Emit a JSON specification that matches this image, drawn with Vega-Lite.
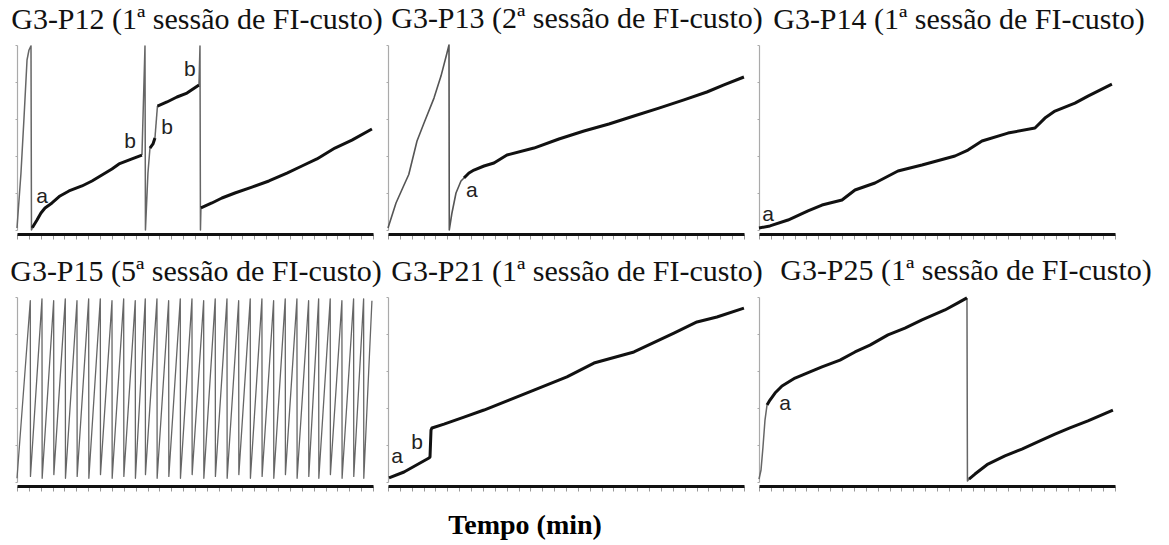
{
  "$schema": "https://vega.github.io/schema/vega-lite/v6.json",
  "background": "white",
  "padding": {"left": 10, "top": 4, "right": 0, "bottom": 0},
  "datasets": {
    "curves": [
      {"p":"P12","s":1,"k":"thin","t":0,"r":1.1},{"p":"P12","s":1,"k":"thin","t":0.67,"r":30.8},{"p":"P12","s":1,"k":"thin","t":1.18,"r":60.5},{"p":"P12","s":1,"k":"thin","t":1.69,"r":91.9},{"p":"P12","s":1,"k":"thin","t":2.02,"r":97.3},{"p":"P12","s":1,"k":"thin","t":2.36,"r":99.5},{"p":"P12","s":1,"k":"thin","t":2.44,"r":0},{"p":"P12","s":1,"k":"thin","t":2.61,"r":1.1},
      {"p":"P12","s":2,"k":"thick","t":2.61,"r":1.1},{"p":"P12","s":2,"k":"thick","t":2.65,"r":1.6},{"p":"P12","s":2,"k":"thick","t":3.37,"r":5.4},{"p":"P12","s":2,"k":"thick","t":4.04,"r":9.2},{"p":"P12","s":2,"k":"thick","t":4.72,"r":11.9},{"p":"P12","s":2,"k":"thick","t":5.9,"r":14.6},{"p":"P12","s":2,"k":"thick","t":7.25,"r":18.4},{"p":"P12","s":2,"k":"thick","t":8.76,"r":21.1},{"p":"P12","s":2,"k":"thick","t":10.95,"r":23.8},{"p":"P12","s":2,"k":"thick","t":12.64,"r":26.5},{"p":"P12","s":2,"k":"thick","t":14.32,"r":29.7},{"p":"P12","s":2,"k":"thick","t":16.0,"r":33.0},{"p":"P12","s":2,"k":"thick","t":17.19,"r":35.7},{"p":"P12","s":2,"k":"thick","t":19.38,"r":38.4},{"p":"P12","s":2,"k":"thick","t":21.06,"r":40.5},
      {"p":"P12","s":3,"k":"thin","t":21.06,"r":40.5},{"p":"P12","s":3,"k":"thin","t":21.57,"r":99.5},{"p":"P12","s":3,"k":"thin","t":21.65,"r":0},{"p":"P12","s":3,"k":"thin","t":22.07,"r":30.8},{"p":"P12","s":3,"k":"thin","t":22.41,"r":44.3},
      {"p":"P12","s":4,"k":"thick","t":22.41,"r":44.3},{"p":"P12","s":4,"k":"thick","t":22.92,"r":46.5},{"p":"P12","s":4,"k":"thick","t":23.25,"r":49.7},
      {"p":"P12","s":5,"k":"thin","t":23.25,"r":49.7},{"p":"P12","s":5,"k":"thin","t":23.67,"r":67.0},
      {"p":"P12","s":6,"k":"thick","t":23.67,"r":67.0},{"p":"P12","s":6,"k":"thick","t":25.28,"r":69.2},{"p":"P12","s":6,"k":"thick","t":26.96,"r":71.9},{"p":"P12","s":6,"k":"thick","t":28.65,"r":74.0},{"p":"P12","s":6,"k":"thick","t":30.67,"r":78.4},
      {"p":"P12","s":7,"k":"thin","t":30.67,"r":78.4},{"p":"P12","s":7,"k":"thin","t":30.84,"r":99.5},{"p":"P12","s":7,"k":"thin","t":30.92,"r":0},{"p":"P12","s":7,"k":"thin","t":31.0,"r":11.9},
      {"p":"P12","s":8,"k":"thick","t":31.0,"r":11.9},{"p":"P12","s":8,"k":"thick","t":32.85,"r":14.6},{"p":"P12","s":8,"k":"thick","t":34.54,"r":17.3},{"p":"P12","s":8,"k":"thick","t":36.73,"r":20.0},{"p":"P12","s":8,"k":"thick","t":39.6,"r":23.2},{"p":"P12","s":8,"k":"thick","t":42.46,"r":26.5},{"p":"P12","s":8,"k":"thick","t":45.5,"r":30.8},{"p":"P12","s":8,"k":"thick","t":48.02,"r":34.6},{"p":"P12","s":8,"k":"thick","t":50.55,"r":38.4},{"p":"P12","s":8,"k":"thick","t":53.58,"r":44.3},{"p":"P12","s":8,"k":"thick","t":56.45,"r":48.6},{"p":"P12","s":8,"k":"thick","t":59.82,"r":54.6},

      {"p":"P13","s":1,"k":"thin","t":0,"r":1.1},{"p":"P13","s":1,"k":"thin","t":1.35,"r":14.6},{"p":"P13","s":1,"k":"thin","t":2.7,"r":24.3},{"p":"P13","s":1,"k":"thin","t":3.5,"r":30.0},{"p":"P13","s":1,"k":"thin","t":4.89,"r":48.1},{"p":"P13","s":1,"k":"thin","t":6.07,"r":57.8},{"p":"P13","s":1,"k":"thin","t":7.75,"r":71.3},{"p":"P13","s":1,"k":"thin","t":8.93,"r":83.2},{"p":"P13","s":1,"k":"thin","t":9.94,"r":95.7},{"p":"P13","s":1,"k":"thin","t":10.28,"r":100},{"p":"P13","s":1,"k":"thin","t":10.33,"r":0},{"p":"P13","s":1,"k":"thin","t":10.78,"r":9.2},{"p":"P13","s":1,"k":"thin","t":11.46,"r":20.0},{"p":"P13","s":1,"k":"thin","t":12.3,"r":26.5},{"p":"P13","s":1,"k":"thin","t":12.8,"r":28.1},
      {"p":"P13","s":2,"k":"thick","t":12.8,"r":28.1},{"p":"P13","s":2,"k":"thick","t":13.65,"r":30.8},{"p":"P13","s":2,"k":"thick","t":14.49,"r":32.4},{"p":"P13","s":2,"k":"thick","t":16.18,"r":34.6},{"p":"P13","s":2,"k":"thick","t":17.86,"r":36.2},{"p":"P13","s":2,"k":"thick","t":20.05,"r":40.5},{"p":"P13","s":2,"k":"thick","t":24.6,"r":44.3},{"p":"P13","s":2,"k":"thick","t":28.81,"r":49.2},{"p":"P13","s":2,"k":"thick","t":33.03,"r":53.5},{"p":"P13","s":2,"k":"thick","t":37.24,"r":57.3},{"p":"P13","s":2,"k":"thick","t":41.45,"r":61.6},{"p":"P13","s":2,"k":"thick","t":45.66,"r":65.9},{"p":"P13","s":2,"k":"thick","t":49.88,"r":70.3},{"p":"P13","s":2,"k":"thick","t":53.75,"r":74.6},{"p":"P13","s":2,"k":"thick","t":56.62,"r":78.4},{"p":"P13","s":2,"k":"thick","t":59.99,"r":82.7},

      {"p":"P14","s":1,"k":"thick","t":0,"r":1.1},{"p":"P14","s":1,"k":"thick","t":1.85,"r":2.2},{"p":"P14","s":1,"k":"thick","t":4.89,"r":5.4},{"p":"P14","s":1,"k":"thick","t":8.26,"r":10.3},{"p":"P14","s":1,"k":"thick","t":10.62,"r":13.5},{"p":"P14","s":1,"k":"thick","t":13.99,"r":16.2},{"p":"P14","s":1,"k":"thick","t":16.18,"r":21.6},{"p":"P14","s":1,"k":"thick","t":19.55,"r":25.4},{"p":"P14","s":1,"k":"thick","t":23.42,"r":31.9},{"p":"P14","s":1,"k":"thick","t":27.47,"r":35.1},{"p":"P14","s":1,"k":"thick","t":33.03,"r":40.0},{"p":"P14","s":1,"k":"thick","t":35.22,"r":43.2},{"p":"P14","s":1,"k":"thick","t":37.58,"r":48.1},{"p":"P14","s":1,"k":"thick","t":41.96,"r":52.4},{"p":"P14","s":1,"k":"thick","t":46.51,"r":55.1},{"p":"P14","s":1,"k":"thick","t":48.19,"r":60.5},{"p":"P14","s":1,"k":"thick","t":49.88,"r":64.3},{"p":"P14","s":1,"k":"thick","t":53.25,"r":68.6},{"p":"P14","s":1,"k":"thick","t":55.44,"r":72.4},{"p":"P14","s":1,"k":"thick","t":59.48,"r":78.9},

      {"p":"P15","s":1,"k":"thin","t":0,"r":2},
      {"p":"P15","s":1,"k":"thin","t":2.24,"r":98},{"p":"P15","s":1,"k":"thin","t":2.27,"r":3},
      {"p":"P15","s":1,"k":"thin","t":4.21,"r":99},{"p":"P15","s":1,"k":"thin","t":4.24,"r":2},
      {"p":"P15","s":1,"k":"thin","t":6.18,"r":98},{"p":"P15","s":1,"k":"thin","t":6.21,"r":4},
      {"p":"P15","s":1,"k":"thin","t":8.14,"r":99},{"p":"P15","s":1,"k":"thin","t":8.17,"r":2},
      {"p":"P15","s":1,"k":"thin","t":10.11,"r":98},{"p":"P15","s":1,"k":"thin","t":10.14,"r":3},
      {"p":"P15","s":1,"k":"thin","t":12.08,"r":99},{"p":"P15","s":1,"k":"thin","t":12.11,"r":2},
      {"p":"P15","s":1,"k":"thin","t":14.04,"r":99},{"p":"P15","s":1,"k":"thin","t":14.07,"r":4},
      {"p":"P15","s":1,"k":"thin","t":16.01,"r":98},{"p":"P15","s":1,"k":"thin","t":16.04,"r":2},
      {"p":"P15","s":1,"k":"thin","t":17.98,"r":99},{"p":"P15","s":1,"k":"thin","t":18.01,"r":3},
      {"p":"P15","s":1,"k":"thin","t":19.93,"r":98},{"p":"P15","s":1,"k":"thin","t":19.96,"r":2},
      {"p":"P15","s":1,"k":"thin","t":21.62,"r":99},{"p":"P15","s":1,"k":"thin","t":21.65,"r":4},
      {"p":"P15","s":1,"k":"thin","t":23.59,"r":99},{"p":"P15","s":1,"k":"thin","t":23.62,"r":2},
      {"p":"P15","s":1,"k":"thin","t":25.56,"r":98},{"p":"P15","s":1,"k":"thin","t":25.59,"r":3},
      {"p":"P15","s":1,"k":"thin","t":27.52,"r":99},{"p":"P15","s":1,"k":"thin","t":27.55,"r":2},
      {"p":"P15","s":1,"k":"thin","t":29.49,"r":99},{"p":"P15","s":1,"k":"thin","t":29.52,"r":4},
      {"p":"P15","s":1,"k":"thin","t":31.46,"r":98},{"p":"P15","s":1,"k":"thin","t":31.49,"r":2},
      {"p":"P15","s":1,"k":"thin","t":33.41,"r":99},{"p":"P15","s":1,"k":"thin","t":33.44,"r":3},
      {"p":"P15","s":1,"k":"thin","t":35.39,"r":99},{"p":"P15","s":1,"k":"thin","t":35.42,"r":2},
      {"p":"P15","s":1,"k":"thin","t":37.36,"r":98},{"p":"P15","s":1,"k":"thin","t":37.39,"r":4},
      {"p":"P15","s":1,"k":"thin","t":39.31,"r":99},{"p":"P15","s":1,"k":"thin","t":39.34,"r":2},
      {"p":"P15","s":1,"k":"thin","t":41.28,"r":99},{"p":"P15","s":1,"k":"thin","t":41.31,"r":3},
      {"p":"P15","s":1,"k":"thin","t":43.25,"r":98},{"p":"P15","s":1,"k":"thin","t":43.28,"r":2},
      {"p":"P15","s":1,"k":"thin","t":45.21,"r":99},{"p":"P15","s":1,"k":"thin","t":45.24,"r":4},
      {"p":"P15","s":1,"k":"thin","t":47.18,"r":99},{"p":"P15","s":1,"k":"thin","t":47.21,"r":2},
      {"p":"P15","s":1,"k":"thin","t":49.15,"r":98},{"p":"P15","s":1,"k":"thin","t":49.18,"r":3},
      {"p":"P15","s":1,"k":"thin","t":50.84,"r":99},{"p":"P15","s":1,"k":"thin","t":50.87,"r":2},
      {"p":"P15","s":1,"k":"thin","t":52.79,"r":99},{"p":"P15","s":1,"k":"thin","t":52.82,"r":4},
      {"p":"P15","s":1,"k":"thin","t":54.76,"r":98},{"p":"P15","s":1,"k":"thin","t":54.79,"r":2},
      {"p":"P15","s":1,"k":"thin","t":56.73,"r":99},{"p":"P15","s":1,"k":"thin","t":56.76,"r":3},
      {"p":"P15","s":1,"k":"thin","t":58.42,"r":99},{"p":"P15","s":1,"k":"thin","t":58.45,"r":2},
      {"p":"P15","s":1,"k":"thin","t":59.82,"r":98},

      {"p":"P21","s":1,"k":"thick","t":0.17,"r":2.2},{"p":"P21","s":1,"k":"thick","t":2.7,"r":5.4},{"p":"P21","s":1,"k":"thick","t":6.91,"r":13.0},{"p":"P21","s":1,"k":"thick","t":7.08,"r":13.5},{"p":"P21","s":1,"k":"thick","t":7.25,"r":28.1},{"p":"P21","s":1,"k":"thick","t":7.41,"r":29.2},{"p":"P21","s":1,"k":"thick","t":9.44,"r":31.3},{"p":"P21","s":1,"k":"thick","t":12.81,"r":35.1},{"p":"P21","s":1,"k":"thick","t":16.18,"r":38.9},{"p":"P21","s":1,"k":"thick","t":20.39,"r":44.3},{"p":"P21","s":1,"k":"thick","t":24.6,"r":49.7},{"p":"P21","s":1,"k":"thick","t":30.16,"r":56.8},{"p":"P21","s":1,"k":"thick","t":34.71,"r":64.3},{"p":"P21","s":1,"k":"thick","t":41.45,"r":70.3},{"p":"P21","s":1,"k":"thick","t":48.19,"r":80.5},{"p":"P21","s":1,"k":"thick","t":52.07,"r":86.5},{"p":"P21","s":1,"k":"thick","t":55.44,"r":89.2},{"p":"P21","s":1,"k":"thick","t":59.99,"r":94.0},

      {"p":"P25","s":1,"k":"thin","t":0,"r":1.6},{"p":"P25","s":1,"k":"thin","t":0.34,"r":6.5},{"p":"P25","s":1,"k":"thin","t":0.67,"r":18.9},{"p":"P25","s":1,"k":"thin","t":1.01,"r":33.5},{"p":"P25","s":1,"k":"thin","t":1.35,"r":41.6},
      {"p":"P25","s":2,"k":"thick","t":1.35,"r":41.6},{"p":"P25","s":2,"k":"thick","t":1.85,"r":44.3},{"p":"P25","s":2,"k":"thick","t":2.7,"r":48.1},{"p":"P25","s":2,"k":"thick","t":3.88,"r":51.9},{"p":"P25","s":2,"k":"thick","t":6.07,"r":56.2},{"p":"P25","s":2,"k":"thick","t":8.59,"r":59.5},{"p":"P25","s":2,"k":"thick","t":10.62,"r":62.2},{"p":"P25","s":2,"k":"thick","t":13.65,"r":65.9},{"p":"P25","s":2,"k":"thick","t":16.18,"r":70.3},{"p":"P25","s":2,"k":"thick","t":18.7,"r":74.0},{"p":"P25","s":2,"k":"thick","t":21.74,"r":79.5},{"p":"P25","s":2,"k":"thick","t":24.6,"r":83.2},{"p":"P25","s":2,"k":"thick","t":27.47,"r":87.6},{"p":"P25","s":2,"k":"thick","t":31.34,"r":93.0},{"p":"P25","s":2,"k":"thick","t":33.53,"r":96.8},{"p":"P25","s":2,"k":"thick","t":35.05,"r":99.5},
      {"p":"P25","s":3,"k":"thin","t":35.05,"r":99.5},{"p":"P25","s":3,"k":"thin","t":35.13,"r":0.5},{"p":"P25","s":3,"k":"thin","t":35.39,"r":1.6},
      {"p":"P25","s":4,"k":"thick","t":35.39,"r":1.6},{"p":"P25","s":4,"k":"thick","t":36.4,"r":4.3},{"p":"P25","s":4,"k":"thick","t":38.59,"r":9.7},{"p":"P25","s":4,"k":"thick","t":41.45,"r":14.1},{"p":"P25","s":4,"k":"thick","t":44.31,"r":17.8},{"p":"P25","s":4,"k":"thick","t":47.35,"r":22.2},{"p":"P25","s":4,"k":"thick","t":49.88,"r":25.9},{"p":"P25","s":4,"k":"thick","t":52.4,"r":29.2},{"p":"P25","s":4,"k":"thick","t":55.44,"r":33.0},{"p":"P25","s":4,"k":"thick","t":59.65,"r":38.9}
    ],
    "labels": [
      {"p":"P12","lab":"a","t":4.21,"r":17.8},
      {"p":"P12","lab":"b","t":19.04,"r":47.6},
      {"p":"P12","lab":"b","t":25.28,"r":55.1},
      {"p":"P12","lab":"b","t":29.15,"r":86.5},
      {"p":"P13","lab":"a","t":14.15,"r":21.1},
      {"p":"P14","lab":"a","t":1.52,"r":8.1},
      {"p":"P21","lab":"a","t":1.52,"r":13.5},
      {"p":"P21","lab":"b","t":4.89,"r":21.1},
      {"p":"P25","lab":"a","t":4.38,"r":42.2}
    ]
  },
  "data": {"name": "curves"},
  "title": {"text": "Tempo (min)", "orient": "bottom", "anchor": "middle", "font": "Liberation Serif", "fontWeight": "bold", "fontSize": 28, "color": "#000", "dx": -56, "offset": 20},
  "vconcat": [
    {"bounds": "flush", "hconcat": [
      {"title": {"text": "G3-P12 (1ª sessão de FI-custo)", "dx": 2}, "width": 356, "height": 185,
       "encoding": {"x": {"field": "t", "type": "quantitative", "scale": {"domain": [0, 60], "nice": false}, "axis": {"title": null}}, "y": {"field": "r", "type": "quantitative", "scale": {"domain": [0, 100], "nice": false}, "axis": {"title": null}}},
       "layer": [
         {"transform": [{"filter": "datum.p == 'P12' && datum.k == 'thin'"}], "mark": {"type": "line", "stroke": "#666", "strokeWidth": 1.5, "strokeJoin": "round"}, "encoding": {"detail": {"field": "s"}, "order": {"value": null}}},
         {"transform": [{"filter": "datum.p == 'P12' && datum.k == 'thick'"}], "mark": {"type": "line", "stroke": "#111", "strokeWidth": 3, "strokeJoin": "round"}, "encoding": {"detail": {"field": "s"}, "order": {"value": null}}},
         {"data": {"name": "labels"}, "transform": [{"filter": "datum.p == 'P12'"}], "mark": {"type": "text", "font": "Liberation Sans", "fontSize": 21, "color": "#222", "baseline": "middle", "align": "center"}, "encoding": {"text": {"field": "lab"}}}
       ]},
      {"title": {"text": "G3-P13 (2ª sessão de FI-custo)", "dx": 11}, "width": 356, "height": 185,
       "encoding": {"x": {"field": "t", "type": "quantitative", "scale": {"domain": [0, 60], "nice": false}, "axis": {"title": null}}, "y": {"field": "r", "type": "quantitative", "scale": {"domain": [0, 100], "nice": false}, "axis": {"title": null}}},
       "layer": [
         {"transform": [{"filter": "datum.p == 'P13' && datum.k == 'thin'"}], "mark": {"type": "line", "stroke": "#555", "strokeWidth": 1.6, "strokeJoin": "round"}, "encoding": {"detail": {"field": "s"}, "order": {"value": null}}},
         {"transform": [{"filter": "datum.p == 'P13' && datum.k == 'thick'"}], "mark": {"type": "line", "stroke": "#111", "strokeWidth": 3, "strokeJoin": "round"}, "encoding": {"detail": {"field": "s"}, "order": {"value": null}}},
         {"data": {"name": "labels"}, "transform": [{"filter": "datum.p == 'P13'"}], "mark": {"type": "text", "font": "Liberation Sans", "fontSize": 21, "color": "#222", "baseline": "middle", "align": "center"}, "encoding": {"text": {"field": "lab"}}}
       ]},
      {"title": {"text": "G3-P14 (1ª sessão de FI-custo)", "dx": 22}, "width": 356, "height": 185,
       "encoding": {"x": {"field": "t", "type": "quantitative", "scale": {"domain": [0, 60], "nice": false}, "axis": {"title": null}}, "y": {"field": "r", "type": "quantitative", "scale": {"domain": [0, 100], "nice": false}, "axis": {"title": null}}},
       "layer": [
         {"transform": [{"filter": "datum.p == 'P14' && datum.k == 'thick'"}], "mark": {"type": "line", "stroke": "#111", "strokeWidth": 3, "strokeJoin": "round"}, "encoding": {"detail": {"field": "s"}, "order": {"value": null}}},
         {"data": {"name": "labels"}, "transform": [{"filter": "datum.p == 'P14'"}], "mark": {"type": "text", "font": "Liberation Sans", "fontSize": 21, "color": "#222", "baseline": "middle", "align": "center"}, "encoding": {"text": {"field": "lab"}}}
       ]}
    ], "spacing": 15},
    {"bounds": "flush", "hconcat": [
      {"title": {"text": "G3-P15 (5ª sessão de FI-custo)", "dx": 1}, "width": 356, "height": 185,
       "encoding": {"x": {"field": "t", "type": "quantitative", "scale": {"domain": [0, 60], "nice": false}, "axis": {"title": null}}, "y": {"field": "r", "type": "quantitative", "scale": {"domain": [0, 100], "nice": false}, "axis": {"title": null}}},
       "layer": [
         {"transform": [{"filter": "datum.p == 'P15' && datum.k == 'thin'"}], "mark": {"type": "line", "stroke": "#666", "strokeWidth": 1.3, "strokeJoin": "round"}, "encoding": {"detail": {"field": "s"}, "order": {"value": null}}}
       ]},
      {"title": {"text": "G3-P21 (1ª sessão de FI-custo)", "dx": 11}, "width": 356, "height": 185,
       "encoding": {"x": {"field": "t", "type": "quantitative", "scale": {"domain": [0, 60], "nice": false}, "axis": {"title": null}}, "y": {"field": "r", "type": "quantitative", "scale": {"domain": [0, 100], "nice": false}, "axis": {"title": null}}},
       "layer": [
         {"transform": [{"filter": "datum.p == 'P21' && datum.k == 'thick'"}], "mark": {"type": "line", "stroke": "#111", "strokeWidth": 3, "strokeJoin": "round"}, "encoding": {"detail": {"field": "s"}, "order": {"value": null}}},
         {"data": {"name": "labels"}, "transform": [{"filter": "datum.p == 'P21'"}], "mark": {"type": "text", "font": "Liberation Sans", "fontSize": 21, "color": "#222", "baseline": "middle", "align": "center"}, "encoding": {"text": {"field": "lab"}}}
       ]},
      {"title": {"text": "G3-P25 (1ª sessão de FI-custo)", "dx": 29}, "width": 356, "height": 185,
       "encoding": {"x": {"field": "t", "type": "quantitative", "scale": {"domain": [0, 60], "nice": false}, "axis": {"title": null}}, "y": {"field": "r", "type": "quantitative", "scale": {"domain": [0, 100], "nice": false}, "axis": {"title": null}}},
       "layer": [
         {"transform": [{"filter": "datum.p == 'P25' && datum.k == 'thin'"}], "mark": {"type": "line", "stroke": "#666", "strokeWidth": 1.5, "strokeJoin": "round"}, "encoding": {"detail": {"field": "s"}, "order": {"value": null}}},
         {"transform": [{"filter": "datum.p == 'P25' && datum.k == 'thick'"}], "mark": {"type": "line", "stroke": "#111", "strokeWidth": 3, "strokeJoin": "round"}, "encoding": {"detail": {"field": "s"}, "order": {"value": null}}},
         {"data": {"name": "labels"}, "transform": [{"filter": "datum.p == 'P25'"}], "mark": {"type": "text", "font": "Liberation Sans", "fontSize": 21, "color": "#222", "baseline": "middle", "align": "center"}, "encoding": {"text": {"field": "lab"}}}
       ]}
    ], "spacing": 15}
  ],
  "spacing": 16,
  "config": {
    "view": {"stroke": null},
    "title": {"font": "Liberation Serif", "fontSize": 30, "fontWeight": "normal", "color": "#111", "anchor": "middle", "offset": 10},
    "axisX": {"labels": false, "grid": false, "domainWidth": 3, "domainColor": "#111", "tickColor": "#999", "tickSize": 5, "tickWidth": 1, "offset": 4, "tickCount": 30},
    "axisY": {"labels": false, "grid": false, "domainWidth": 1.2, "domainColor": "#aaa", "tickColor": "#aaa", "tickSize": 2, "tickCount": 5}
  }
}
